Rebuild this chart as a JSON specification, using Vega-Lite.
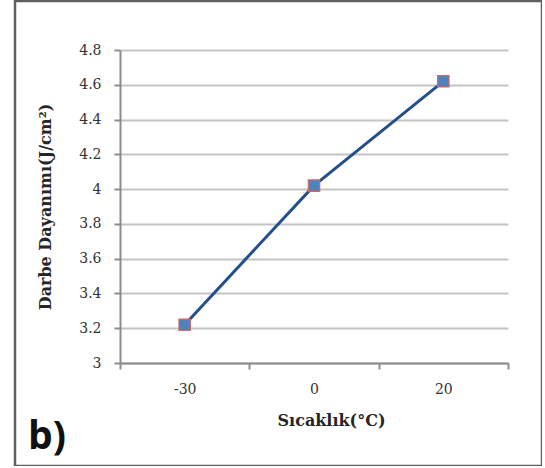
{
  "$schema": "https://vega.github.io/schema/vega-lite/v6.json",
  "autosize": {"type": "none"},
  "padding": {"left": 15, "top": 1, "right": 0, "bottom": 0},
  "width": 527,
  "height": 465,
  "background": "white",
  "config": {
    "view": {"stroke": "#5f5f5f", "strokeWidth": 2.5},
    "font": "DejaVu Serif"
  },
  "title": {
    "text": "b)",
    "orient": "bottom",
    "anchor": "start",
    "frame": "group",
    "font": "Open Sans",
    "fontWeight": "bold",
    "fontSize": 39,
    "color": "#111111",
    "baseline": "alphabetic",
    "offset": 0,
    "dx": 13,
    "dy": -17
  },
  "data": {
    "values": [
      {"temp": "-30", "value": 3.22},
      {"temp": "0", "value": 4.02},
      {"temp": "20", "value": 4.62}
    ]
  },
  "encoding": {
    "x": {
      "field": "temp",
      "type": "nominal",
      "sort": null,
      "scale": {"type": "band", "range": [105, 493], "paddingInner": 0, "paddingOuter": 0},
      "axis": {
        "title": "Sıcaklık(°C)",
        "orient": "bottom",
        "offset": -103,
        "labelAngle": 0,
        "tickBand": "extent",
        "grid": false,
        "domainColor": "#8c8c8c",
        "domainWidth": 2,
        "tickColor": "#8c8c8c",
        "tickWidth": 2,
        "tickSize": 6,
        "labelFont": "DejaVu Serif",
        "labelFontSize": 14,
        "labelColor": "#333333",
        "labelPadding": 13,
        "titleFont": "DejaVu Serif",
        "titleFontSize": 16,
        "titleFontWeight": "bold",
        "titleColor": "#262626",
        "titleBaseline": "middle",
        "titleX": 316,
        "titleY": 57
      }
    },
    "y": {
      "field": "value",
      "type": "quantitative",
      "scale": {"domain": [3, 4.8], "range": [362, 49], "nice": false, "zero": false},
      "axis": {
        "title": "Darbe Dayanımı(J/cm²)",
        "orient": "left",
        "offset": -105,
        "values": [3, 3.2, 3.4, 3.6, 3.8, 4, 4.2, 4.4, 4.6, 4.8],
        "format": "~g",
        "grid": true,
        "gridColor": "#c4c4c4",
        "gridWidth": 2,
        "domainColor": "#8c8c8c",
        "domainWidth": 2,
        "tickColor": "#8c8c8c",
        "tickWidth": 2,
        "tickSize": 6,
        "labelFont": "DejaVu Serif",
        "labelFontSize": 14,
        "labelColor": "#333333",
        "labelPadding": 13,
        "titleFont": "DejaVu Serif",
        "titleFontSize": 16,
        "titleFontWeight": "bold",
        "titleColor": "#262626",
        "titleBaseline": "middle",
        "titleX": -75
      }
    }
  },
  "layer": [
    {"mark": {"type": "line", "color": "#24508a", "strokeWidth": 3}},
    {"mark": {"type": "point", "shape": "square", "filled": true, "size": 130, "fill": "#4f81bd", "stroke": "#d06a66", "strokeWidth": 1.2, "opacity": 1}}
  ]
}
